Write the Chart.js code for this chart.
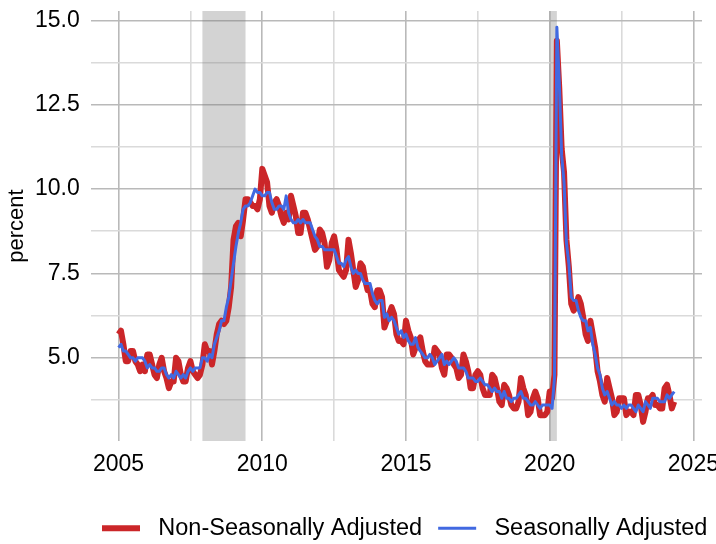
<!DOCTYPE html>
<html>
<head>
<meta charset="utf-8">
<script src="https://cdn.jsdelivr.net/npm/chart.js@4/dist/chart.umd.min.js"></script>
<style>
html,body{margin:0;padding:0;background:#fff;}
canvas{display:block;}
</style>
</head>
<body>
<canvas id="c" width="716" height="544"></canvas>
<script>
// ---- data (monthly, starting Jan 2005) ----
const startYear = 2005;
const nsaRate = [
 5.7,5.8,5.4,4.9,4.9,5.2,5.2,4.9,4.8,4.6,4.8,4.6,
 5.1,5.1,4.8,4.5,4.4,4.8,5.0,4.6,4.4,4.1,4.3,4.3,
 5.0,4.9,4.5,4.3,4.3,4.7,4.9,4.6,4.5,4.4,4.5,4.8,
 5.4,5.2,5.2,4.8,5.2,5.7,6.0,6.1,6.0,6.1,6.5,7.1,
 8.5,8.9,9.0,8.6,9.1,9.7,9.7,9.6,9.5,9.5,9.4,9.7,
 10.6,10.4,10.2,9.5,9.3,9.6,9.7,9.5,9.2,9.0,9.3,9.1,
 9.8,9.5,9.2,8.7,8.7,9.3,9.3,9.1,8.8,8.5,8.2,8.3,
 8.8,8.7,8.4,7.7,7.9,8.4,8.6,8.2,7.6,7.5,7.4,7.6,
 8.5,8.1,7.6,7.1,7.3,7.8,7.7,7.3,7.0,7.0,6.6,6.5,
 7.0,7.0,6.8,5.9,6.1,6.3,6.5,6.3,5.7,5.5,5.5,5.4,
 6.1,5.8,5.6,5.1,5.3,5.5,5.6,5.2,4.9,4.8,4.8,4.8,
 5.3,5.2,5.1,4.7,4.5,5.1,5.1,5.0,4.8,4.7,4.4,4.5,
 5.1,4.9,4.6,4.1,4.1,4.5,4.6,4.5,4.1,3.9,3.9,3.9,
 4.5,4.4,4.1,3.7,3.6,4.2,4.1,3.9,3.6,3.5,3.5,3.7,
 4.4,4.1,3.9,3.3,3.4,3.8,4.0,3.8,3.3,3.3,3.3,3.4,
 4.0,3.8,4.5,14.4,13.0,11.2,10.5,8.5,7.7,6.6,6.4,6.5,
 6.8,6.6,6.2,5.7,5.5,6.1,5.7,5.3,4.6,4.3,3.9,3.7,
 4.4,4.1,3.8,3.3,3.4,3.8,3.8,3.8,3.3,3.4,3.4,3.3,
 3.9,3.9,3.6,3.1,3.4,3.8,3.8,3.9,3.6,3.6,3.5,3.5,
 4.1,4.2,3.9,3.5,3.7
];
const saRate = [
 5.3,5.4,5.2,5.2,5.1,5.0,5.0,4.9,5.0,5.0,5.0,4.9,
 4.7,4.8,4.7,4.7,4.6,4.6,4.7,4.7,4.5,4.4,4.5,4.4,
 4.6,4.5,4.4,4.5,4.4,4.6,4.7,4.6,4.7,4.7,4.7,5.0,
 5.0,4.9,5.1,5.0,5.4,5.6,5.8,6.1,6.1,6.5,6.8,7.3,
 7.8,8.3,8.7,9.0,9.4,9.5,9.5,9.6,9.8,10.0,9.9,9.9,
 9.8,9.8,9.9,9.9,9.6,9.4,9.4,9.5,9.5,9.4,9.8,9.3,
 9.1,9.0,9.0,9.1,9.0,9.1,9.0,9.0,9.0,8.8,8.6,8.5,
 8.3,8.3,8.2,8.2,8.2,8.2,8.2,8.0,7.8,7.8,7.7,7.9,
 8.0,7.7,7.5,7.6,7.5,7.5,7.3,7.2,7.2,7.2,6.9,6.7,
 6.6,6.7,6.7,6.2,6.3,6.1,6.2,6.1,5.9,5.7,5.8,5.6,
 5.7,5.5,5.4,5.4,5.6,5.3,5.2,5.1,5.0,5.0,5.1,5.0,
 4.8,4.9,5.0,5.1,4.8,4.9,4.8,4.9,5.0,4.9,4.7,4.7,
 4.7,4.6,4.4,4.4,4.4,4.3,4.3,4.4,4.3,4.2,4.2,4.1,
 4.0,4.1,4.0,4.0,3.8,4.0,3.8,3.8,3.7,3.8,3.8,3.9,
 4.0,3.8,3.8,3.7,3.6,3.6,3.7,3.6,3.5,3.6,3.6,3.6,
 3.6,3.5,4.4,14.8,13.2,11.0,10.2,8.4,7.8,6.8,6.7,6.7,
 6.4,6.2,6.1,6.1,5.8,5.9,5.4,5.1,4.7,4.5,4.1,3.9,
 4.0,3.8,3.6,3.7,3.6,3.6,3.5,3.6,3.5,3.6,3.6,3.5,
 3.4,3.6,3.5,3.4,3.7,3.6,3.5,3.8,3.8,3.8,3.7,3.7,
 3.7,3.9,3.8,3.9,4.0
];
const seriesNames = ["Seasonally Adjusted", "Non-Seasonally Adjusted"];
const recessionStarts = ["2007-12", "2020-01"];
const recessionEnds   = ["2009-06", "2020-04"];
const xMajorTicks = [2005, 2010, 2015, 2020, 2025];
const xMinorTicks = [2007.5, 2012.5, 2017.5, 2022.5];
const yMajorTicks = [5.0, 7.5, 10.0, 12.5, 15.0];
const yMinorTicks = [3.75, 6.25, 8.75, 11.25, 13.75];
const yAxisTitle = "percent";

// ---- helpers ----
const monthToYear = s => { const [y, m] = s.split("-").map(Number); return y + (m - 1) / 12; };
const toPoints = arr => arr.map((v, i) => ({ x: startYear + i / 12, y: v }));
const xTicks = xMajorTicks.concat(xMinorTicks).sort((a, b) => a - b);
const yTicks = yMajorTicks.concat(yMinorTicks).sort((a, b) => a - b);

const MAJOR_GRID = "#b9b9b9";
const MINOR_GRID = "#dadada";

const recessionPlugin = {
  id: "recessions",
  beforeDatasetsDraw(chart) {
    const { ctx, chartArea, scales } = chart;
    ctx.save();
    ctx.beginPath();
    ctx.rect(chartArea.left, chartArea.top, chartArea.right - chartArea.left, chartArea.bottom - chartArea.top);
    ctx.clip();
    ctx.fillStyle = "rgba(120,120,120,0.33)";
    recessionStarts.forEach((s, i) => {
      const x0 = scales.x.getPixelForValue(monthToYear(s));
      const x1 = scales.x.getPixelForValue(monthToYear(recessionEnds[i]));
      ctx.fillRect(x0, chartArea.top, x1 - x0, chartArea.bottom - chartArea.top);
    });
    ctx.restore();
  }
};

// place the legend row where the reference has it
const legendPlacePlugin = {
  id: "legendPlace",
  afterLayout(chart) {
    const lg = chart.legend;
    if (!lg) return;
    const w = lg.right - lg.left;
    lg.left = 86;
    lg.right = 86 + w;
  }
};

const FONT = "'Liberation Sans', Arial, sans-serif";

new Chart(document.getElementById("c"), {
  type: "line",
  data: {
    datasets: [
      {
        label: seriesNames[0],
        data: toPoints(saRate),
        borderColor: "#4169E1",
        backgroundColor: "#4169E1",
        borderWidth: 3,
        pointRadius: 0,
        tension: 0,
        borderJoinStyle: "round",
        fill: false
      },
      {
        label: seriesNames[1],
        data: toPoints(nsaRate),
        borderColor: "#CB2629",
        backgroundColor: "#CB2629",
        borderWidth: 6,
        pointRadius: 0,
        tension: 0,
        borderJoinStyle: "round",
        fill: false
      }
    ]
  },
  options: {
    responsive: false,
    animation: false,
    devicePixelRatio: 1,
    layout: { padding: { left: 0, right: 14, top: 11, bottom: -6 } },
    plugins: {
      tooltip: { enabled: false },
      legend: {
        position: "bottom",
        align: "start",
        labels: {
          usePointStyle: true,
          pointStyle: "line",
          pointStyleWidth: 38,
          boxHeight: 23,
          padding: 16,
          color: "#000",
          font: { family: FONT, size: 23.5 },
          sort: (a, b) => b.datasetIndex - a.datasetIndex,
          generateLabels: chart => {
            const items = Chart.defaults.plugins.legend.labels.generateLabels(chart);
            items.forEach(it => { it.text = " " + it.text; });
            return items;
          }
        }
      }
    },
    scales: {
      x: {
        type: "linear",
        min: 2004.03,
        max: 2025.30,
        border: { display: false },
        grid: {
          drawTicks: false,
          color: c => (xMajorTicks.includes(c.tick.value) ? MAJOR_GRID : MINOR_GRID),
          lineWidth: 1.6
        },
        ticks: {
          autoSkip: false,
          maxRotation: 0,
          padding: 10,
          color: "#000",
          font: { family: FONT, size: 23 },
          callback: v => (xMajorTicks.includes(v) ? String(v) : "")
        },
        afterBuildTicks: s => { s.ticks = xTicks.map(v => ({ value: v })); },
        afterFit: s => { s.height = 59.4; s.paddingLeft = 0; s.paddingRight = 0; }
      },
      y: {
        type: "linear",
        min: 2.53,
        max: 15.28,
        border: { display: false },
        grid: {
          drawTicks: false,
          color: c => (yMajorTicks.includes(c.tick.value) ? MAJOR_GRID : MINOR_GRID),
          lineWidth: 1.6
        },
        ticks: {
          padding: 11,
          color: "#000",
          font: { family: FONT, size: 23 },
          callback: v => (yMajorTicks.includes(v) ? v.toFixed(1) : "")
        },
        title: {
          display: true,
          text: yAxisTitle,
          color: "#000",
          font: { family: FONT, size: 22 },
          padding: { top: 4, bottom: 0 }
        },
        afterBuildTicks: s => { s.ticks = yTicks.map(v => ({ value: v })); },
        afterFit: s => { s.width = 90.7; s.paddingTop = 0; s.paddingBottom = 0; }
      }
    }
  },
  plugins: [recessionPlugin, legendPlacePlugin]
});
</script>
</body>
</html>
